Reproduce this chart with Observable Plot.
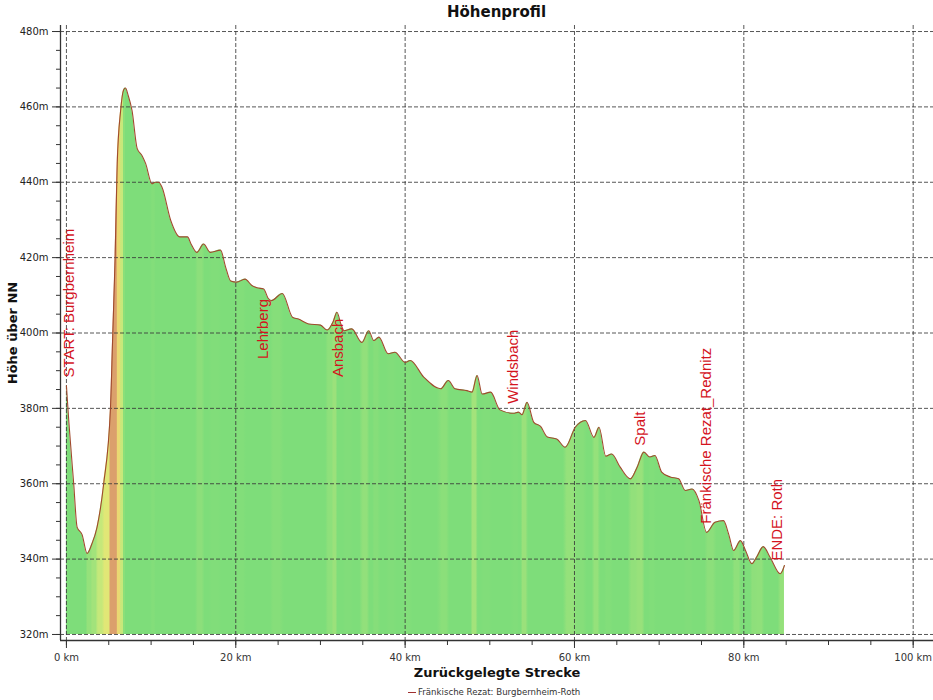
<!DOCTYPE html>
<html><head><meta charset="utf-8">
<script src="https://cdn.jsdelivr.net/npm/d3@7"></script>
<script src="https://cdn.jsdelivr.net/npm/@observablehq/plot@0.6"></script>
<style>
body{margin:0;background:#fff;width:933px;height:700px;overflow:hidden;font-family:"DejaVu Sans",sans-serif;}
#title{height:24px;line-height:24px;padding-left:60px;text-align:center;font-weight:bold;font-size:15px;color:#111;}
#legend{padding-left:408px;height:16px;font-size:8.6px;color:#333;line-height:16px;white-space:nowrap;}
#legend .sw{display:inline-block;width:8px;height:0;border-top:1px solid #a03030;vertical-align:middle;margin-right:2px;}
</style></head><body>
<div id="title"></div>
<div id="chart"></div>
<div id="legend"><span class="sw"></span><span id="legtext"></span></div>
<script>
// ---- data ----
const titleText = "Höhenprofil";
const xLabel = "Zurückgelegte Strecke";
const yLabel = "Höhe über NN";
const seriesName = "Fränkische Rezat: Burgbernheim-Roth";

const km = [0, 0.3, 0.86, 1.26, 1.85, 2.44, 3.0, 3.62, 4.4, 5.2, 5.45, 5.75, 6.0, 6.4, 6.75, 6.97, 7.3, 7.75, 8.35, 8.95, 9.35, 10.1, 10.5, 10.9, 11.3, 12.3, 13.4, 14.3, 14.7, 15.4, 16.2, 17.0, 18.2, 18.8, 19.4, 20.1, 21.1, 21.9, 22.5, 23.3, 23.8, 24.2, 25.5, 26.7, 27.4, 28.6, 30.0, 30.8, 31.5, 31.95, 32.4, 32.8, 33.7, 34.9, 35.7, 36.3, 36.9, 38.0, 38.8, 40.0, 40.6, 42.2, 44.2, 45.1, 45.9, 47.3, 47.9, 48.5, 49.1, 50.1, 51.2, 52.8, 53.4, 53.8, 54.4, 55.2, 56.0, 56.8, 57.9, 58.9, 60.1, 61.3, 62.3, 62.9, 63.7, 64.4, 65.4, 66.6, 67.4, 68.2, 68.9, 69.5, 70.3, 71.3, 72.3, 73.1, 73.9, 74.7, 75.6, 76.6, 77.6, 78.2, 78.8, 79.6, 80.2, 80.95, 81.5, 82.3, 83.1, 84.3, 84.8];
const elev = [386, 376, 360, 348.5, 346.5, 341.5, 344, 348.5, 360, 380, 398, 420, 445, 459, 464.5, 465, 463, 459, 449, 447, 445, 439.6, 440, 440, 438.6, 430, 425.5, 425.5, 423.7, 421.4, 423.6, 421.4, 422, 417.5, 413.8, 413.5, 414.3, 412.6, 412, 411.7, 409.3, 408.6, 410.5, 404.2, 403.7, 402.4, 402.1, 400.8, 403, 405.5, 402.5, 400.6, 401.1, 397.5, 400.6, 398, 398.9, 394.5, 394.9, 392.2, 392.7, 388.3, 385.2, 387.4, 385.2, 384.7, 384.3, 388.7, 383.8, 384.3, 379.6, 378.7, 379, 378.3, 381.6, 376.3, 375.2, 372.4, 371.9, 369.7, 375, 376.8, 372.3, 375, 367.3, 367.9, 364.4, 361.3, 364.4, 368.4, 367.1, 367.5, 363.1, 361.8, 361.3, 358.2, 358.6, 355.5, 347.1, 349.8, 350.2, 346.7, 342.3, 344.9, 342.3, 338.8, 340.5, 343.3, 340.5, 336.1, 338.3];

const wpNames = ["START: Burgbernheim", "Lehrberg", "Ansbach", "Windsbach", "Spalt", "Fränkische Rezat_Rednitz", "ENDE: Roth"];
const wpKm = [0.31, 23.28, 32.08, 52.8, 67.8, 75.6, 83.9];
const wpElev = [388.2, 393.1, 388.3, 381.2, 370.1, 349.4, 339.6];

const xMajor = [0, 20, 40, 60, 80, 100];
const xMinor = d3.range(0, 101, 5);
const yMajor = [320, 340, 360, 380, 400, 420, 440, 460, 480];
const yMinor = d3.range(320, 481, 5);

// ---- build ----
document.getElementById("title").textContent = titleText;
document.getElementById("legtext").textContent = seriesName;

const profile = km.map((k, i) => ({km: k, elev: elev[i]}));
const waypoints = wpNames.map((n, i) => ({name: n, km: wpKm[i], elev: wpElev[i]}));

const xDomain = [-0.7, 102.4];
const yDomain = [318.4, 481.6];
const base = yMajor[0];

// slope-coloured gradient (uphill grade in %)
const slopeColor = d3.scaleLinear()
  .domain([0, 0.5, 1.5, 3, 5.5])
  .range(["#7edd7a", "#98e17b", "#c6e87a", "#eee774", "#dba06c"])
  .clamp(true);
const k0 = km[0], k1 = km[km.length - 1];
const stops = [];
for (let i = 0; i < km.length - 1; i++) {
  const len = km[i + 1] - km[i];
  const grade = Math.max(0, (elev[i + 1] - elev[i]) / len / 10);
  const c = slopeColor(grade);
  stops.push({o: (km[i] + 0.2 * len - k0) / (k1 - k0), c});
  stops.push({o: (km[i + 1] - 0.2 * len - k0) / (k1 - k0), c});
}
const defsMark = () => {
  const defs = d3.create("svg:defs");
  const g = defs.append("linearGradient").attr("id", "slopeGrad")
    .attr("x1", 0).attr("x2", 1).attr("y1", 0).attr("y2", 0);
  g.selectAll("stop").data(stops).join("stop")
    .attr("offset", d => d.o).attr("stop-color", d => d.c);
  return defs.node();
};

const gridStyle = {stroke: "#3a3a3a", strokeOpacity: 0.85, strokeDasharray: "4,2", strokeWidth: 1};
const curve = "monotone-x";

const chart = Plot.plot({
  width: 933,
  height: 660,
  marginTop: 1,
  marginBottom: 44,
  marginLeft: 60,
  marginRight: 0,
  style: {fontFamily: "DejaVu Sans, sans-serif", fontSize: "10px", color: "#333", background: "#fff"},
  x: {domain: xDomain, label: null},
  y: {domain: yDomain, label: null},
  marks: [
    defsMark,
    Plot.areaY(profile, {x: "km", y1: () => base, y2: "elev", fill: "url(#slopeGrad)", curve}),
    Plot.ruleY(yMajor, gridStyle),
    Plot.ruleX(xMajor, gridStyle),
    Plot.lineY(profile, {x: "km", y: "elev", stroke: "#a04a2e", strokeWidth: 1.1, curve}),
    Plot.text(waypoints, {x: "km", y: "elev", text: "name", rotate: -90, textAnchor: "start",
      fill: "#d4141e", fontSize: 15, fontFamily: "Liberation Sans, Arial, sans-serif"}),
    Plot.ruleY([yDomain[0]], {stroke: "#333", strokeWidth: 1.3}),
    Plot.ruleX([xDomain[0]], {stroke: "#333", strokeWidth: 1.3}),
    Plot.axisX(xMinor, {tickSize: 5, tickFormat: () => "", label: null, stroke: "#333"}),
    Plot.axisX(xMajor, {tickSize: 8, tickPadding: 5, tickFormat: d => d + " km", label: null, stroke: "#333", fill: "#333", fontSize: 10}),
    Plot.axisY(yMinor, {tickSize: 4, tickFormat: () => "", label: null, stroke: "#333"}),
    Plot.axisY(yMajor, {tickSize: 8, tickPadding: 4, tickFormat: d => d + "m", label: null, stroke: "#333", fill: "#222", fontSize: 10}),
    Plot.text([xLabel], {frameAnchor: "bottom", text: d => d, dy: 32, lineAnchor: "middle", fontWeight: "bold", fontSize: 13, fill: "#111"}),
    Plot.text([yLabel], {frameAnchor: "left", text: d => d, dx: -48, rotate: -90, textAnchor: "middle", lineAnchor: "middle", fontWeight: "bold", fontSize: 13, fill: "#111"})
  ]
});
chart.style.display = "block";
document.getElementById("chart").appendChild(chart);
</script>
</body></html>
